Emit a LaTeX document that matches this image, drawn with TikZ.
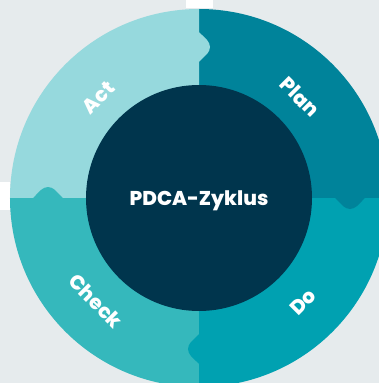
\documentclass[tikz,border=0pt]{standalone}
\usepackage{fontspec}
\setmainfont{Poppins}[BoldFont={Poppins ExtraBold}]
\usepackage{tikz}
\definecolor{bg}{HTML}{E6EBED}
\definecolor{plan}{HTML}{00839A}
\definecolor{act}{HTML}{96D9DD}
\definecolor{check}{HTML}{35B8BC}
\definecolor{do}{HTML}{00A1B1}
\definecolor{core}{HTML}{00354D}
\tikzset{
  baseline = (current bounding box.center),
}

\begin{document}
\begin{tikzpicture}[
    x=1pt,y=1pt,
    lbl/.style={text=white,font=\bfseries\fontsize{20}{20}\selectfont,inner sep=0pt},
    tab/.style={rounded corners=4pt}
    ]
    \fill[bg] (-199,-185) rectangle (180,198);
    \useasboundingbox (-199,-185) rectangle (180,198);
    \fill[white] (-13,190) rectangle (14,198);
    \fill[white] (-199,-12) rectangle (-189,16);
    \foreach \ang/\col in {0/plan,90/act,180/check,270/do}{
      \fill[\col] (0,0) -- (\ang:189) arc[start angle=\ang,end angle=\ang+90,radius=189] -- cycle;
    }
    \foreach \ang/\col in {0/plan,90/act,180/check,270/do}{
      \fill[\col,tab,rotate=\ang-90] (-3,134) -- (0,136) -- (11,147) -- (11,155) -- (0,166) -- (-3,168) -- cycle;
    }
    \node[circle,fill=core,minimum size=226,inner sep=0pt,lbl] (core) at (0,0) {};
    \node[lbl,text depth=0pt] (title) at (core.center) {PDCA-Zyklus};
    \node[lbl,rotate=45] (act) at (135:142) {Act};
    \node[lbl,rotate=-45] (plan) at (45:143) {Plan};
    \node[lbl,rotate=45] (do) at (-45:147) {Do};
    \node[lbl,rotate=-45] (check) at (-135:146) {Check};
  \end{tikzpicture}
\end{document}
